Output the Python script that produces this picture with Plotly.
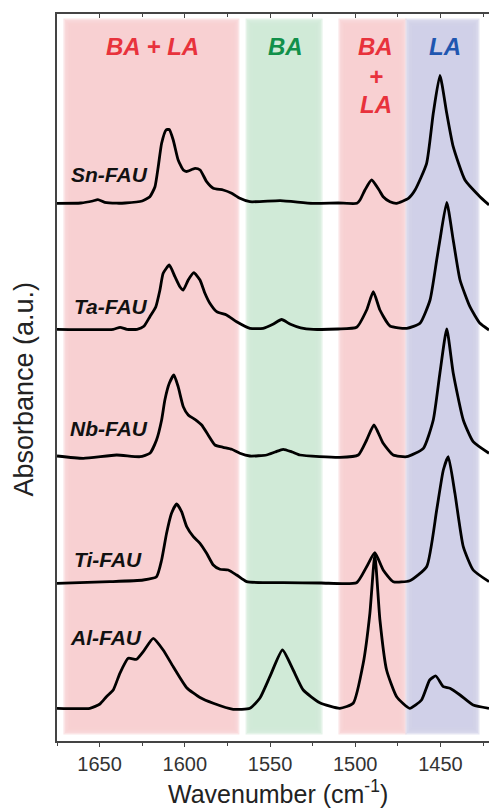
import plotly.graph_objects as go

# ---------------- data ----------------
x_range = [1675, 1421.5]
x_ticks = [1650, 1600, 1550, 1500, 1450]

samples = ["Sn-FAU", "Ta-FAU", "Nb-FAU", "Ti-FAU", "Al-FAU"]
offsets = [537.5, 411.7, 285.0, 158.3, 32.7]
label_wn = [1668, 1666, 1668.6, 1666.4, 1668.6]
label_y = [567, 435, 313, 182, 104]

sn_wn = [1675, 1661, 1654, 1651, 1647, 1640, 1635, 1625, 1620.5, 1617.5, 1615.6, 1613.6, 1611, 1609.1, 1606.8,
         1603.9, 1600.9, 1599, 1594, 1591, 1587.2, 1583.3, 1577.5, 1572.5, 1567.7, 1561.8, 1544, 1525, 1510,
         1499, 1497.2, 1494.3, 1490.4, 1486, 1483.6, 1479.6, 1475.7, 1468.8, 1464.9, 1458.1, 1454.2, 1450.3,
         1446.3, 1442.5, 1435.6, 1426.8, 1421.5]
sn_abs = [0.2, 0.5, 2.5, 3.8, 1.2, 0.3, 0.5, 2.5, 6.8, 16.8, 36.8, 60.2, 73.5, 74, 63.5,
          43.5, 33.5, 32, 35.2, 33.5, 21.8, 15.2, 13.5, 10.2, 5.2, 1.8, 2.8, 0.2, 0.5,
          0.2, 3.5, 13.5, 23.5, 13.5, 6.8, 1.8, 0.2, 5.2, 13.5, 40.2, 90.2, 128,
          90.2, 56.8, 23.5, 6.8, -1.5]

ta_wn = [1675, 1642, 1638, 1634, 1628, 1624, 1620.5, 1617, 1614.6, 1612.7, 1609.1, 1605.8, 1602.9, 1600.9,
         1598, 1594.7, 1591.1, 1588.2, 1585.3, 1581.3, 1575.5, 1569.6, 1561.8, 1554, 1548, 1543.2, 1538,
         1532, 1524.6, 1510, 1499.2, 1493.3, 1489.4, 1485.5, 1479.6, 1469.8, 1462, 1456.1, 1452.2, 1450.3,
         1446.3, 1442.5, 1438.5, 1432.7, 1426.8, 1421.5]
ta_abs = [0, 0, 2, 0, 0, 3, 12.6, 22.6, 39.3, 56, 64.3, 52.6, 42.6, 39.3,
          49.3, 56.6, 49.3, 36, 26, 17.6, 14.3, 7.6, 1, 1, 5.3, 9.8, 5,
          1.5, 0, 0.3, 2, 19.3, 37.6, 19.3, 3.3, 1, 6, 29.3, 69.3, 89.3,
          127, 89.3, 49.3, 22.6, 6, -0.7]

nb_wn = [1675, 1659.6, 1640, 1626.3, 1620.5, 1616.6, 1613.6, 1611.7, 1609.1, 1606.4, 1603.9, 1600.9, 1598,
         1594.1, 1590.1, 1586.3, 1582.3, 1577.5, 1572.5, 1567.7, 1561.8, 1552, 1547, 1542.3, 1537, 1532.4,
         1509, 1498.2, 1493.3, 1489, 1483.6, 1477.7, 1469.8, 1460, 1454.2, 1450.3, 1446.3, 1442.5, 1436.6,
         1430.8, 1421.5]
nb_abs = [0, -2.3, 1, -0.7, 2.7, 16, 36, 56, 72.7, 81, 69.3, 49.3, 41,
          36.7, 31, 21, 11, 8.7, 6.7, 2.7, 0, 1, 4, 6.7, 4, 1,
          -1.3, 1, 16, 31, 12.7, 1, -0.7, 7.7, 36, 83, 127, 83, 36,
          14.3, 2.7]

ti_wn = [1675, 1644, 1624.4, 1616.6, 1613.6, 1610.7, 1607.8, 1604.8, 1601.9, 1598.9, 1595, 1591.1, 1587.2,
         1583.3, 1579.4, 1574.5, 1569.6, 1563.7, 1542.3, 1520, 1499.2, 1493.3, 1488.5, 1483.6, 1477.7, 1468,
         1458.1, 1452.2, 1448.3, 1445.4, 1441.5, 1436.6, 1430.8, 1421.5]
ti_abs = [-0.6, 1, 2.7, 6, 22.7, 49.4, 69.4, 78.7, 71, 56, 46, 39.4, 29.4,
          17.7, 13.4, 12.7, 7.7, 1, 0, -0.3, 0, 16, 30, 12.7, 1, 2,
          16, 72.7, 112.7, 126, 89.4, 36, 12.7, 1]

al_wn = [1675, 1655.7, 1649.8, 1646, 1642, 1638.1, 1633.2, 1628.3, 1624.4, 1618.5, 1612.7, 1606.8, 1598.9,
         1591.1, 1583.3, 1571.6, 1561.8, 1556, 1550.1, 1542.7, 1536.4, 1530.5, 1520.8, 1509, 1501.2, 1495.3,
         1491.4, 1488.5, 1485.5, 1481.6, 1475.7, 1468, 1461.1, 1456.3, 1452.7, 1448.3, 1444.4, 1438.5,
         1430.8, 1421.5]
al_abs = [0, 0, 4.3, 11.6, 18.3, 35, 50, 49, 56.6, 70, 58.3, 41.6, 20.6,
          10.8, 5, -1, 0, 10, 31.6, 58.3, 38.3, 18.3, 5.6, 0, 5, 45,
          95, 153.3, 88.3, 38.3, 11.6, 0, 8.3, 28.3, 32.3, 21.6, 20, 13.3,
          3.3, 0]

spectra_wn = [sn_wn, ta_wn, nb_wn, ti_wn, al_wn]
spectra_abs = [sn_abs, ta_abs, nb_abs, ti_abs, al_abs]

# shaded assignment regions
band_hi = [1668.6, 1561.7, 1507.2, 1467.9]
band_lo = [1570.6, 1521.8, 1472.6, 1429.7]
band_colors = [(248, 207, 210), (208, 233, 215), (248, 207, 210), (207, 208, 232)]
band_y = [11, 718]

# band labels
band_text = ["BA + LA", "BA", "BA", "+", "LA", "LA"]
band_text_wn = [1619, 1540.9, 1488.1, 1488.1, 1488.1, 1447.2]
band_text_y = [695, 695, 695, 665, 637, 695]
band_text_col = ["#e8323c", "#11904a", "#e8323c", "#e8323c", "#e8323c", "#1f56b0"]

# ---------------- figure ----------------
fig = go.Figure()

px_per_wn = 432 / (x_range[0] - x_range[1])
shapes = []
layer_exp = [4.5, 3, 1.5, 0, -1.5, -3]
for lo, hi, col in zip(band_lo, band_hi, band_colors):
    for e in layer_exp:
        dx = e / px_per_wn
        shapes.append(dict(type="rect", xref="x", yref="y", layer="below",
                           x0=hi + dx, x1=lo - dx, y0=band_y[0] - e, y1=band_y[1] + e,
                           line=dict(width=0),
                           fillcolor="rgba(%d,%d,%d,0.55)" % col))

for name, wn, ab, off in zip(samples, spectra_wn, spectra_abs, offsets):
    fig.add_trace(go.Scatter(x=wn, y=[a + off for a in ab], mode="lines", name=name,
                             line=dict(color="black", width=2.8, shape="spline", smoothing=0.5),
                             showlegend=False, hoverinfo="skip"))

# invisible trace for top axis
fig.add_trace(go.Scatter(x=[x_range[0]], y=[0], xaxis="x2", mode="markers",
                         marker=dict(opacity=0), showlegend=False, hoverinfo="skip"))

ann = []
for name, xw, yy in zip(samples, label_wn, label_y):
    ann.append(dict(x=xw, y=yy, xref="x", yref="y", text="<b><i>%s</i></b>" % name,
                    showarrow=False, xanchor="left", yanchor="middle",
                    font=dict(family="Liberation Sans", size=21, color="#111")))
for t, xw, yy, c in zip(band_text, band_text_wn, band_text_y, band_text_col):
    ann.append(dict(x=xw, y=yy, xref="x", yref="y", text="<b><i>%s</i></b>" % t,
                    showarrow=False, xanchor="center", yanchor="middle",
                    font=dict(family="Liberation Sans", size=24, color=c)))
ann.append(dict(x=(278 - 57) / 432, y=0, xref="paper", yref="paper", yshift=-51,
                text="Wavenumber (cm<sup>-1</sup>)", showarrow=False,
                xanchor="center", yanchor="middle",
                font=dict(family="Liberation Sans", size=25, color="#222")))
ann.append(dict(x=0, y=0.5, xref="paper", yref="paper", text="Absorbance (a.u.)",
                showarrow=False, textangle=-90, xanchor="center", yanchor="middle",
                xshift=-34, yshift=-12, font=dict(family="Liberation Sans", size=27, color="#222")))

fig.update_layout(
    width=489, height=809,
    margin=dict(l=57, r=0, t=14, b=68),
    paper_bgcolor="white", plot_bgcolor="white",
    shapes=shapes, annotations=ann,
    xaxis=dict(range=x_range, tickvals=x_ticks, ticks="outside", ticklen=4, tickwidth=1.3,
               tickcolor="#444", showline=True, linecolor="#444", linewidth=1.5,
               showgrid=False, zeroline=False,
               minor=dict(dtick=25, tick0=1650, ticks="outside", ticklen=3, tickcolor="#444", tickwidth=1.2),
               tickfont=dict(family="Liberation Sans", size=20, color="#333")),
    xaxis2=dict(range=x_range, overlaying="x", side="top", tickvals=x_ticks, ticks="inside",
                ticklen=4, tickwidth=1.3, tickcolor="#444", showline=True, linecolor="#444",
                linewidth=1.5, showticklabels=False, showgrid=False, zeroline=False,
                minor=dict(dtick=25, tick0=1650, ticks="inside", ticklen=3, tickcolor="#444", tickwidth=1.2)),
    yaxis=dict(range=[0, 727], showticklabels=False, ticks="", showline=True, linecolor="#444",
               linewidth=1.5, showgrid=False, zeroline=False),
)

fig.write_html("out.html")
